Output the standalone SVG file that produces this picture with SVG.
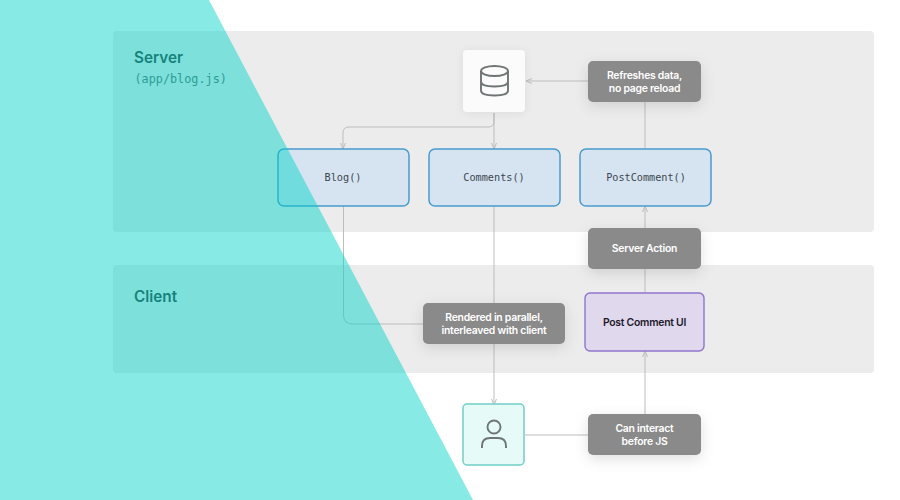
<svg xmlns="http://www.w3.org/2000/svg" width="900" height="500" viewBox="0 0 900 500">
<defs>
<filter id="sh" x="-30%" y="-50%" width="160%" height="220%"><feDropShadow dx="0" dy="4" stdDeviation="7" flood-color="#000" flood-opacity="0.12"/></filter>
<filter id="sh2" x="-40%" y="-40%" width="180%" height="180%"><feDropShadow dx="0" dy="1" stdDeviation="4" flood-color="#000" flood-opacity="0.07"/></filter>
<marker id="arr" viewBox="0 0 8 6" refX="7" refY="3" markerWidth="8" markerHeight="6" orient="auto" markerUnits="userSpaceOnUse"><path d="M1 0.500L7 3L1 5.500" fill="none" stroke="#bdbdbd" stroke-width="1"/></marker>
</defs>
<style>
.panel{fill:#ececec}
.conn{fill:none;stroke:#bdbdbd;stroke-width:1}
.fn{fill:#d6e4f1;stroke:#4a9bd0;stroke-width:1.5}
.note{fill:#8a8a8a;filter:url(#sh)}
.nt{font-family:Inter,"Liberation Sans",sans-serif;font-size:10.4px;font-weight:600;fill:#fff;text-anchor:middle;letter-spacing:-0.25px}
.mono{font-family:"DejaVu Sans Mono","Liberation Mono",monospace;font-size:10.2px;fill:#3c4650;text-anchor:middle}
.h{font-family:Inter,"Liberation Sans",sans-serif;font-size:15.300px;font-weight:600;fill:#2d3a3a}
.ic{fill:none;stroke:#6f7575;stroke-width:1.9}
</style>
<rect width="900" height="500" fill="#fff"/>
<g id="server-panel"><rect class="panel" x="113" y="31" width="761" height="201" rx="4"/>
<text class="h" x="134" y="63">Server</text>
<text x="134.500" y="83" font-family="'DejaVu Sans Mono','Liberation Mono',monospace" font-size="11.800" fill="#5a6b6b">(app/blog.js)</text></g>
<g id="client-panel"><rect class="panel" x="113" y="265" width="761" height="108" rx="4"/>
<text class="h" x="134" y="302">Client</text></g>
<g id="connectors">
<path class="conn" marker-end="url(#arr)" d="M494 113V121Q494 127 488 127H349Q343 127 343 133V149"/>
<path class="conn" marker-end="url(#arr)" d="M494 113V149"/>
<path class="conn" d="M343.500 206V315Q343.500 324 352.500 324H424"/>
<path class="conn" marker-end="url(#arr)" d="M494 206V405"/>
<path class="conn" marker-end="url(#arr)" d="M588 81H526"/>
<path class="conn" d="M645 102V149"/>
<path class="conn" marker-end="url(#arr)" d="M645 228V206"/>
<path class="conn" d="M645 268V294"/>
<path class="conn" marker-end="url(#arr)" d="M645 415V351"/>
<path class="conn" d="M525 435H588"/>
</g>
<g id="db"><rect x="463" y="50" width="62" height="62" rx="4" fill="#fbfbfb" filter="url(#sh2)"/>
<ellipse class="ic" cx="494.500" cy="71" rx="13.500" ry="5"/><path class="ic" d="M481 71V90.500Q481 95.500 494.500 95.500Q508 95.500 508 90.500V71M481 81.500Q481 86.500 494.500 86.500Q508 86.500 508 81.500"/></g>
<g id="blog"><rect class="fn" x="278" y="149" width="131" height="57" rx="6"/><text class="mono" x="343" y="181">Blog()</text></g>
<g id="comments"><rect class="fn" x="429" y="149" width="131" height="57" rx="6"/><text class="mono" x="494" y="181">Comments()</text></g>
<g id="postcomment"><rect class="fn" x="580" y="149" width="131" height="57" rx="6"/><text class="mono" x="646" y="181">PostComment()</text></g>
<g id="refreshes"><rect class="note" x="588" y="61" width="113" height="41" rx="5"/><text class="nt" x="644.500" y="79.200">Refreshes data,</text><text class="nt" x="644.500" y="92">no page reload</text></g>
<g id="server-action"><rect class="note" x="588" y="228" width="113" height="41" rx="5"/><text class="nt" x="644.500" y="252">Server Action</text></g>
<g id="rendered"><rect class="note" x="423" y="303" width="142" height="41" rx="5"/><text class="nt" x="494" y="321.200">Rendered in parallel,</text><text class="nt" x="494" y="334">interleaved with client</text></g>
<g id="post-ui"><rect x="585" y="293" width="119" height="58" rx="5" fill="#e0d8ec" stroke="#8f74cc" stroke-width="1.4"/><text x="644.500" y="326" text-anchor="middle" font-family="Inter,'Liberation Sans',sans-serif" font-size="10.400" font-weight="600" fill="#1e1a2c" letter-spacing="-0.25">Post Comment UI</text></g>
<g id="user"><rect x="463" y="404" width="61" height="61" rx="4" fill="#e6faf8" stroke="#6fd0c6" stroke-width="1.5"/>
<circle class="ic" cx="494" cy="427" r="6.500"/><path class="ic" d="M482 448V446Q482 438 490 438H498Q506 438 506 446V448"/></g>
<g id="interact"><rect class="note" x="588" y="414" width="113" height="41" rx="5"/><text class="nt" x="644.500" y="432.200">Can interact</text><text class="nt" x="644.500" y="445">before JS</text></g>
<path id="wedge" d="M0 0H209L473 500H0Z" fill="#00d3c5" fill-opacity="0.47"/>
</svg>
